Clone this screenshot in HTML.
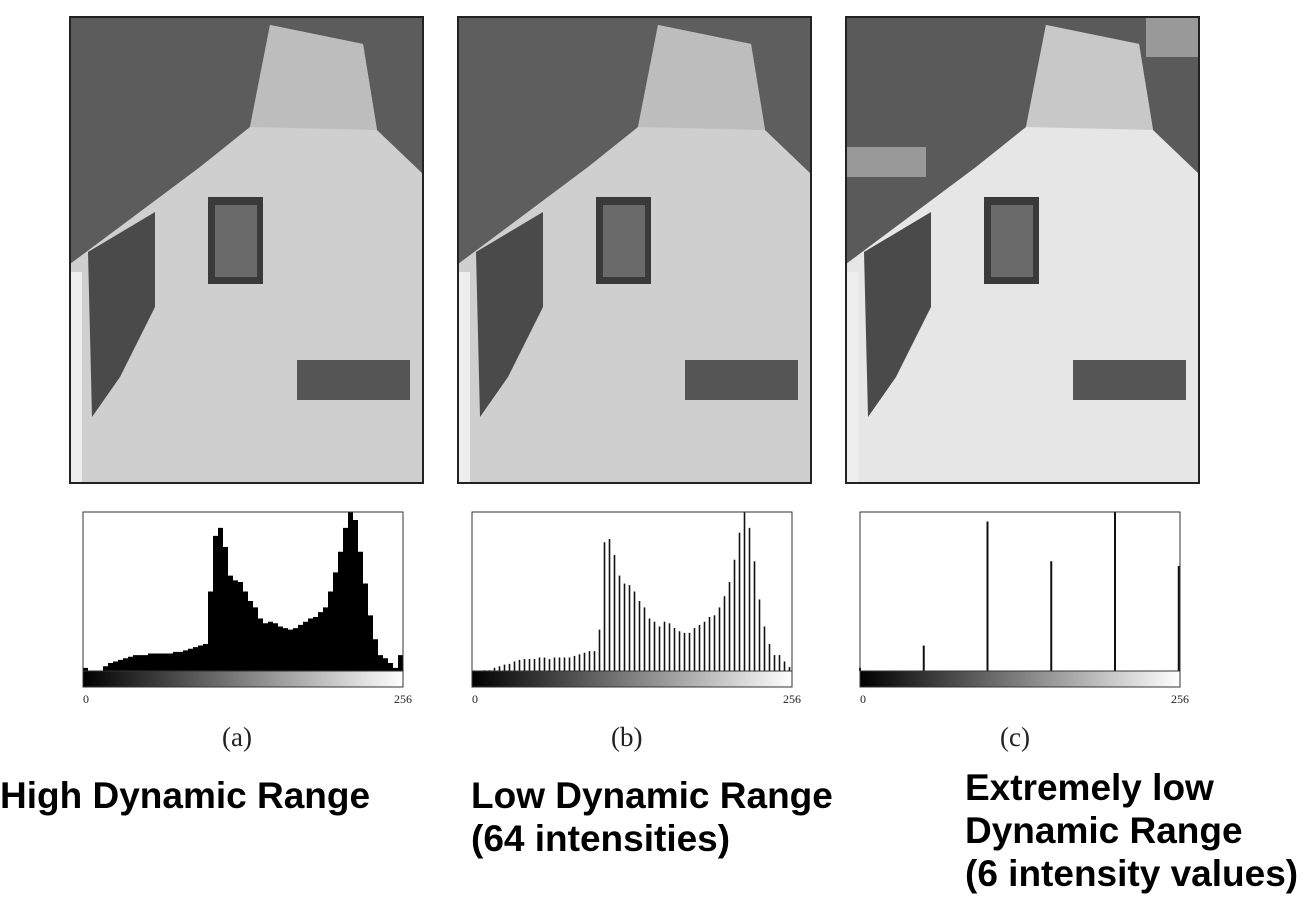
<!DOCTYPE html>
<html><head><meta charset="utf-8"><style>
body{margin:0;width:1306px;height:906px;background:#fff;overflow:hidden;position:relative;font-family:"Liberation Sans",sans-serif}
.cap{position:absolute;font-family:"Liberation Serif",serif;font-size:27px;color:#222}
.title{position:absolute;font-weight:bold;font-size:37px;line-height:43px;color:#000;white-space:nowrap}
</style></head><body>
<svg id="fig" width="1306" height="906" style="position:absolute;left:0;top:0">
<defs>
<linearGradient id="gb" x1="0" x2="1"><stop offset="0" stop-color="#000"/><stop offset="1" stop-color="#fff"/></linearGradient>
<g id="house">
<polygon points="0,247 130,150 180,110 200,8 293,27 307,113 353,157 353,466 0,466" fill="var(--wall)"/>
<polygon points="200,8 293,27 307,113 180,110" fill="var(--chim)"/>
<polygon points="18,235 85,195 85,290 50,360 22,400" fill="#4a4a4a"/>
<rect x="138" y="180" width="55" height="87" fill="#3a3a3a"/>
<rect x="145" y="188" width="42" height="72" fill="#6a6a6a"/>
<polygon points="227,343 340,343 340,383 227,383" fill="#555"/>
<rect x="0" y="255" width="12" height="211" fill="#eee"/>
</g>
</defs>
<g transform="translate(70,17)" style="--wall:#cfcfcf;--chim:#bdbdbd">
<rect width="353" height="466" fill="#5c5c5c"/><use href="#house"/><rect width="353" height="466" fill="none" stroke="#222" stroke-width="2"/></g>
<g transform="translate(458,17)" style="--wall:#cfcfcf;--chim:#bdbdbd">
<rect width="353" height="466" fill="#5e5e5e"/><use href="#house"/><rect width="353" height="466" fill="none" stroke="#222" stroke-width="2"/></g>
<g transform="translate(846,17)" style="--wall:#e6e6e6;--chim:#c8c8c8">
<rect width="353" height="466" fill="#5a5a5a"/><rect x="0" y="130" width="80" height="30" fill="#999"/><rect x="300" y="0" width="53" height="40" fill="#999"/><use href="#house"/><rect width="353" height="466" fill="none" stroke="#222" stroke-width="2"/></g>
<g id="hists"></g>
</svg>
<div class="cap" style="left:222px;top:722px">(a)</div>
<div class="cap" style="left:611px;top:722px">(b)</div>
<div class="cap" style="left:1000px;top:722px">(c)</div>
<div class="title" style="left:0;top:774px">High Dynamic Range</div>
<div class="title" style="left:471px;top:774px">Low Dynamic Range<br>(64 intensities)</div>
<div class="title" style="left:965px;top:766px">Extremely low<br>Dynamic Range<br>(6 intensity values)</div>
<script>
const histA=[0.02,0,0,0,0.03,0.05,0.06,0.07,0.08,0.09,0.1,0.1,0.1,0.11,0.11,0.11,0.11,0.11,0.12,0.12,0.13,0.14,0.15,0.16,0.17,0.5,0.85,0.9,0.78,0.6,0.57,0.56,0.5,0.44,0.4,0.33,0.3,0.31,0.3,0.28,0.27,0.26,0.27,0.29,0.31,0.33,0.34,0.37,0.4,0.5,0.62,0.75,0.9,1.0,0.95,0.75,0.55,0.35,0.2,0.1,0.08,0.05,0.02,0.1];
const histB=[0,0,0.005,0.005,0.02,0.03,0.04,0.045,0.06,0.07,0.075,0.075,0.075,0.085,0.085,0.075,0.085,0.085,0.085,0.085,0.095,0.105,0.115,0.125,0.125,0.26,0.81,0.83,0.73,0.6,0.55,0.54,0.5,0.44,0.4,0.33,0.31,0.28,0.31,0.3,0.27,0.25,0.24,0.24,0.27,0.29,0.31,0.34,0.35,0.4,0.47,0.56,0.7,0.87,1.0,0.9,0.69,0.45,0.28,0.17,0.1,0.1,0.06,0.025];
const levelsC=[0,51,102,153,204,255];
const histC=[0.02,0.16,0.94,0.69,1.0,0.66];
const axisLabels=["0","256"];
const NS="http://www.w3.org/2000/svg";
const root=document.getElementById('hists');
function mk(t,a){const e=document.createElementNS(NS,t);for(const k in a)e.setAttribute(k,a[k]);return e;}
function panel(x0,name){
 const w=320,top=512,h=159;
 const g=mk('g',{});
 
 
 root.appendChild(g);
 const xs=v=>x0+v/256*w, ys=f=>top+h-f*h;
 return {g,xs,ys,w,top,h,x0};
}
function frame(p){
 const r=mk('rect',{x:p.x0,y:p.top,width:p.w,height:p.h,fill:'none',stroke:'#333','stroke-width':1});
 
 
 p.g.appendChild(r);
 const gb=mk('rect',{x:p.x0,y:p.top+p.h,width:p.w,height:16,fill:'url(#gb)',stroke:'#333','stroke-width':1});
 
 
 p.g.appendChild(gb);
 axisLabels.forEach((s,i)=>{
  const t=mk('text',{x:p.xs(i*256),y:p.top+p.h+32,'font-size':12,'font-family':'Liberation Serif, serif','text-anchor':i?'middle':'start',fill:'#222'});
  t.textContent=s;
  
  
  p.g.appendChild(t);
 });
}
let p=panel(83,'histogram-a');
let d='M'+p.xs(0)+','+p.ys(0);
histA.forEach((v,i)=>{d+=' L'+p.xs(i*4)+','+p.ys(v)+' L'+p.xs(i*4+4)+','+p.ys(v);});
d+=' L'+p.xs(256)+','+p.ys(0)+'Z';
const pa=mk('path',{d:d,fill:'#000'});


p.g.appendChild(pa);
frame(p);
p=panel(472,'histogram-b');
histB.forEach((v,i)=>{
 const l=mk('line',{x1:p.xs(i*4+2),x2:p.xs(i*4+2),y1:p.ys(0),y2:p.ys(v),stroke:'#111','stroke-width':1.6});
 
 
 p.g.appendChild(l);
});
frame(p);
p=panel(860,'histogram-c');
histC.forEach((v,i)=>{
 const l=mk('line',{x1:p.xs(levelsC[i]),x2:p.xs(levelsC[i]),y1:p.ys(0),y2:p.ys(v),stroke:'#111','stroke-width':2});
 
 
 p.g.appendChild(l);
});
frame(p);
</script>
</body></html>
